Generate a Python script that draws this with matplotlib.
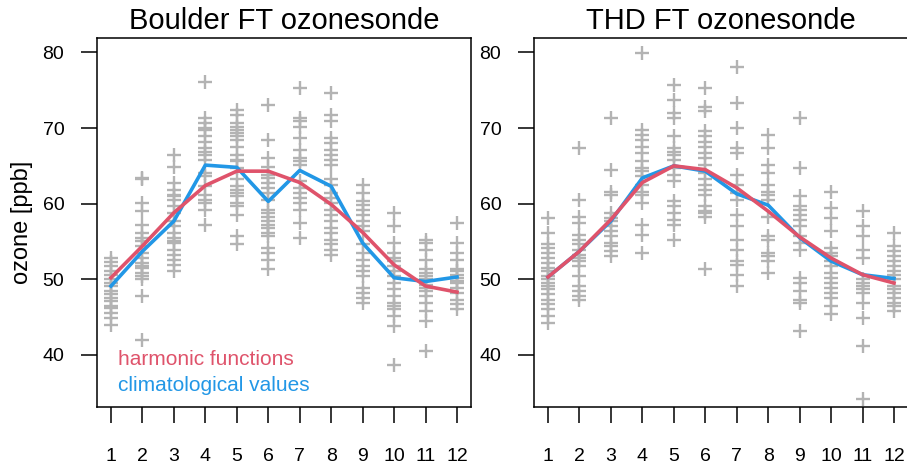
import numpy as np
import matplotlib.pyplot as plt

plt.rcParams['font.family'] = ['Liberation Sans', 'DejaVu Sans']

months = np.arange(1, 13)

# Boulder FT ozonesonde, monthly observations (ppb)
boulder_obs = [
    [52.8, 52.25, 51.7, 51.07, 50.6, 50.0, 49.5, 49.09, 48.4, 48.0, 47.55, 47.1, 46.45, 46.2, 45.6, 44.9, 44.0],
    [63.4, 63.2, 60.1, 59.0, 57.2, 56.1, 55.47, 55.0, 54.4, 53.5, 52.8, 52.2, 51.7, 51.5, 50.85, 50.4, 50.0, 47.8, 42.0],
    [66.5, 64.9, 62.7, 61.85, 61.2, 61.0, 60.5, 59.65, 58.8, 57.7, 57.0, 56.1, 55.5, 55.0, 54.8, 53.9, 53.25, 52.6, 51.95, 51.07],
    [76.15, 71.3, 70.65, 70.0, 69.77, 68.9, 68.2, 67.35, 66.9, 66.5, 65.8, 64.05, 63.6, 62.3, 61.2, 60.5, 60.1, 59.2, 57.2],
    [72.4, 71.75, 70.65, 70.2, 69.77, 69.3, 68.9, 68.45, 67.55, 66.5, 65.8, 65.6, 64.7, 63.2, 62.3, 61.85, 61.4, 61.0, 60.1, 59.65, 58.55, 55.7, 54.6],
    [73.1, 68.45, 66.0, 64.9, 63.8, 63.4, 62.7, 62.1, 61.4, 60.5, 59.2, 58.8, 58.3, 57.7, 57.2, 56.8, 56.1, 55.7, 54.15, 53.5, 52.6, 51.3],
    [75.3, 71.3, 70.9, 70.2, 68.7, 67.1, 66.0, 65.6, 65.15, 62.95, 62.1, 61.4, 60.75, 60.1, 59.2, 57.45, 55.47],
    [74.6, 71.75, 70.9, 68.7, 68.0, 67.1, 66.5, 65.8, 65.15, 63.2, 62.5, 61.4, 60.75, 60.1, 59.2, 58.55, 57.7, 56.8, 56.1, 55.25, 54.6, 53.9, 53.25],
    [62.5, 61.4, 60.3, 59.85, 59.2, 58.55, 57.7, 57.0, 56.35, 54.6, 53.5, 52.6, 51.7, 51.07, 50.4, 48.9, 48.2, 47.55, 46.9],
    [58.77, 57.0, 54.8, 53.5, 52.8, 52.4, 51.7, 51.07, 50.4, 49.5, 48.65, 47.8, 46.9, 46.45, 46.0, 45.1, 43.8, 38.7],
    [55.25, 54.8, 53.9, 52.6, 51.3, 50.85, 50.4, 50.0, 49.3, 48.9, 48.4, 47.8, 46.9, 45.8, 44.5, 40.5],
    [57.45, 54.8, 53.5, 52.6, 51.3, 51.07, 50.6, 50.2, 49.8, 49.5, 48.9, 48.2, 47.3, 46.7, 46.0],
]
boulder_harm = [50.2, 54.4, 58.8, 62.4, 64.3, 64.3, 62.8, 59.9, 56.2, 51.9, 49.1, 48.3]
boulder_clim = [49.1, 53.7, 57.7, 65.1, 64.8, 60.3, 64.4, 62.3, 54.8, 50.2, 49.7, 50.3]

# THD FT ozonesonde, monthly observations (ppb)
thd_obs = [
    [58.1, 56.1, 54.6, 54.15, 53.5, 52.8, 52.2, 51.5, 51.07, 50.4, 50.0, 49.5, 49.1, 48.65, 48.0, 47.3, 46.7, 46.0, 45.1, 44.25],
    [67.35, 60.5, 58.3, 57.45, 55.9, 55.25, 54.6, 53.9, 53.25, 52.8, 52.4, 51.7, 50.4, 49.1, 48.4, 47.8, 47.3],
    [71.3, 64.5, 61.6, 61.2, 58.8, 58.1, 57.7, 57.0, 56.35, 55.7, 54.8, 54.4, 53.7, 53.05],
    [79.9, 69.77, 69.1, 68.45, 67.55, 66.7, 65.6, 64.7, 64.27, 63.6, 62.5, 61.6, 61.2, 60.1, 57.2, 55.9, 53.5],
    [75.7, 73.7, 71.97, 71.3, 68.9, 67.35, 66.9, 66.5, 65.8, 64.7, 63.8, 62.95, 60.3, 59.65, 58.8, 57.9, 57.2, 55.25],
    [75.3, 72.85, 72.2, 69.55, 68.9, 68.2, 67.55, 66.7, 66.0, 65.15, 64.05, 63.2, 62.5, 61.85, 61.2, 59.65, 59.0, 58.77, 58.3, 51.3],
    [78.1, 73.3, 70.0, 67.35, 66.7, 63.8, 62.5, 61.4, 60.5, 58.55, 57.0, 55.25, 53.9, 52.4, 51.95, 50.6, 49.1],
    [69.1, 67.35, 65.15, 64.05, 62.5, 61.6, 61.2, 60.5, 58.3, 55.7, 55.25, 53.5, 53.05, 52.4, 50.85],
    [71.3, 64.7, 61.0, 59.65, 59.2, 58.55, 57.9, 57.0, 55.7, 54.8, 53.9, 50.2, 49.5, 48.4, 47.3, 46.9, 43.15],
    [61.6, 59.4, 58.1, 56.35, 54.15, 53.5, 53.05, 52.4, 51.7, 50.85, 50.2, 49.5, 48.9, 48.2, 47.55, 46.45, 45.35],
    [59.0, 57.0, 55.7, 53.9, 52.8, 50.0, 49.5, 49.1, 48.65, 48.2, 46.9, 44.9, 41.2, 34.1],
    [56.1, 54.4, 53.7, 53.05, 52.4, 51.7, 51.07, 50.6, 50.0, 49.1, 48.65, 48.2, 47.55, 46.9, 46.45, 45.8],
]
thd_harm = [50.3, 53.7, 57.9, 62.8, 65.0, 64.5, 62.1, 59.0, 55.6, 52.8, 50.6, 49.5]
thd_clim = [50.3, 53.7, 57.7, 63.4, 65.0, 64.3, 61.3, 59.8, 55.5, 52.4, 50.6, 50.1]

red = '#DF536B'
blue = '#2297E6'
grey = '#B3B3B3'

fig = plt.figure(figsize=(9.07, 4.70), dpi=100)
ax1 = fig.add_axes([97 / 907, 63 / 470, 374 / 907, 368.5 / 470])
ax2 = fig.add_axes([534 / 907, 63 / 470, 374 / 907, 368.5 / 470])

panels = [(ax1, 'Boulder FT ozonesonde', boulder_obs, boulder_harm, boulder_clim),
          (ax2, 'THD FT ozonesonde', thd_obs, thd_harm, thd_clim)]

for ax, title, obs, harm, clim in panels:
    for m, vals in zip(months, obs):
        ax.plot([m] * len(vals), vals, linestyle='none', marker='+',
                color=grey, markersize=10, markeredgewidth=1.7)
    ax.plot(months, clim, color=blue, lw=2.6)
    ax.plot(months, harm, color=red, lw=2.6)
    ax.set_xlim(0.555, 12.445)
    ax.set_ylim(33.1, 81.85)
    ax.set_xticks(months)
    ax.set_yticks([40, 50, 60, 70, 80])
    ax.tick_params(axis='both', labelsize=14, length=11.5, width=1.1, color='black')
    ax.tick_params(axis='x', pad=18)
    ax.tick_params(axis='y', pad=12)
    for s in ax.spines.values():
        s.set_linewidth(1.1)
    ax.set_title(title, fontsize=21, pad=7)

ax1.set_ylabel('ozone [ppb]', fontsize=17, labelpad=7)
ax1.text(0.056, 0.114, 'harmonic functions', color=red, fontsize=15,
         transform=ax1.transAxes, va='baseline')
ax1.text(0.056, 0.044, 'climatological values', color=blue, fontsize=15,
         transform=ax1.transAxes, va='baseline')

fig.savefig('out.png', dpi=100)
